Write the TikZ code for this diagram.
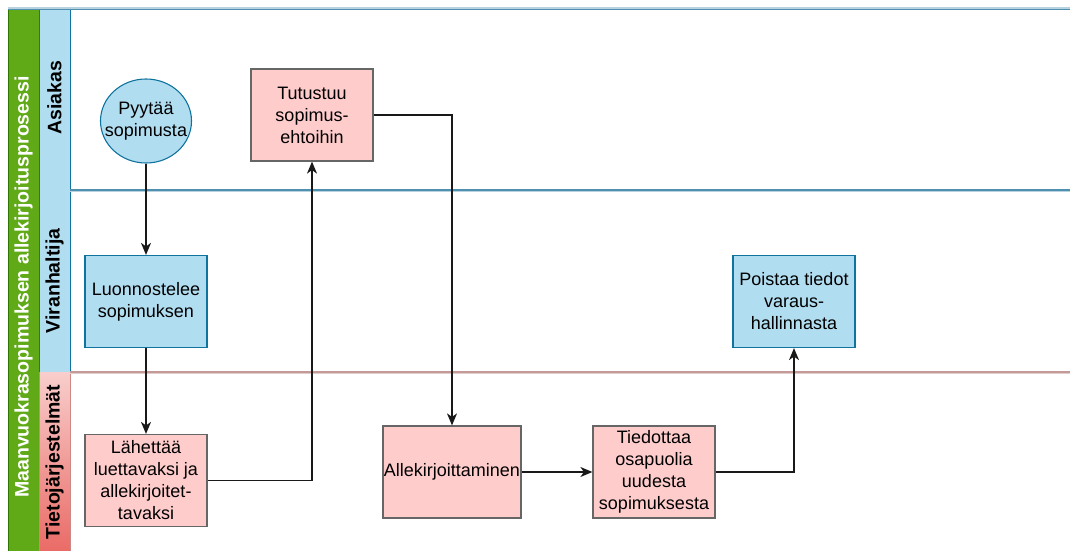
\documentclass[tikz,border=0pt]{standalone}
\usepackage{fontspec}
\setmainfont{Liberation Sans}
\usetikzlibrary{arrows.meta,shapes.geometric}
\definecolor{poolgreen}{HTML}{60A917}
\definecolor{poolgreenline}{HTML}{2D7600}
\definecolor{lanefill}{HTML}{B1DDF0}
\definecolor{laneedge}{HTML}{10739E}
\definecolor{lanerule}{HTML}{4F8FB0}
\definecolor{pinktop}{HTML}{F8CECC}
\definecolor{pinkbottom}{HTML}{EA6B66}
\definecolor{pinkedge}{HTML}{B85450}
\definecolor{pinkrule}{HTML}{C49A98}
\definecolor{taskfill}{HTML}{FFCCCC}
\definecolor{taskedge}{HTML}{666666}

\begin{document}
\begin{tikzpicture}[x=1pt,y=-1pt,
  txt/.style={font=\fontsize{18}{22}\selectfont},
  hdr/.style={rotate=90, font=\fontsize{19.5}{22}\selectfont\bfseries},
  pinktask/.style={txt, rectangle, draw=taskedge, fill=taskfill, line width=1.2pt,
    minimum width=122pt, minimum height=92pt, align=center, inner sep=0pt},
  bluetask/.style={pinktask, draw=laneedge, fill=lanefill},
  startev/.style={txt, ellipse, draw=laneedge, fill=lanefill, line width=1.1pt,
    minimum width=91pt, minimum height=84pt, inner sep=0pt},
  flow/.style={draw=black!90, line width=1.2pt,
    -{Stealth[length=12pt,width=10pt,inset=3.5pt]}}
]
\useasboundingbox (0,0) rectangle (1070,551);

% pool header
\draw[fill=poolgreen, draw=poolgreenline, line width=0.8pt] (8,9) rectangle (39,551);
\node[hdr, text=white] (pool) at (23.5,287) {Maanvuokrasopimuksen allekirjoitusprosessi};

% lane headers
\fill[lanefill] (39,9) rectangle (70,372);
\fill[top color=pinktop, bottom color=pinkbottom] (39,372) rectangle (70,551);
\draw[laneedge, line width=1pt] (39,9) -- (39,372) (70,9) -- (70,372);
\draw[pinkedge!70, line width=1pt] (39,372) -- (39,551) (70,372) -- (70,551);
\node[hdr] (laneA) at (54.5,98) {Asiakas};
\node[hdr] (laneB) at (54.5,281) {Viranhaltija};
\node[hdr] (laneC) at (54.5,462) {Tietojärjestelmät};

% lane borders
\draw[lanerule!40, line width=3pt] (8,9) -- (1070,9);
\draw[lanerule, line width=1.6pt] (8,9.5) -- (1070,9.5);
\draw[lanerule!40, line width=3pt] (70,190) -- (1070,190);
\draw[lanerule, line width=1.6pt] (70,190) -- (1070,190);
\draw[pinkrule!50, line width=3pt] (70,372) -- (1070,372);
\draw[pinkrule, line width=1.6pt] (70,372) -- (1070,372);

% tasks
\node[startev] (req) at (146,121)
  {\makebox[0pt]{\begin{tabular}{@{}c@{}}Pyytää\\sopimusta\end{tabular}}};
\node[bluetask] (draft) at (146,301.5) {Luonnostelee\\sopimuksen};
\node[pinktask] (send) at (146,480.5) {Lähettää\\luettavaksi ja\\allekirjoitet-\\tavaksi};
\node[pinktask] (study) at (312,115) {Tutustuu\\sopimus-\\ehtoihin};
\node[pinktask, minimum width=138pt] (sign) at (452,472) {Allekirjoittaminen};
\node[pinktask] (inform) at (654,472) {Tiedottaa\\osapuolia\\uudesta\\sopimuksesta};
\node[bluetask] (remove) at (794,301.5) {Poistaa tiedot\\varaus-\\hallinnasta};

% flow
\draw[flow] (req) -- (draft);
\draw[flow] (draft) -- (send);
\draw[flow] (send.east) -| (study.south);
\draw[flow] (study.east) -| (sign.north);
\draw[flow] (sign) -- (inform);
\draw[flow] (inform.east) -| (remove.south);
\end{tikzpicture}
\end{document}
